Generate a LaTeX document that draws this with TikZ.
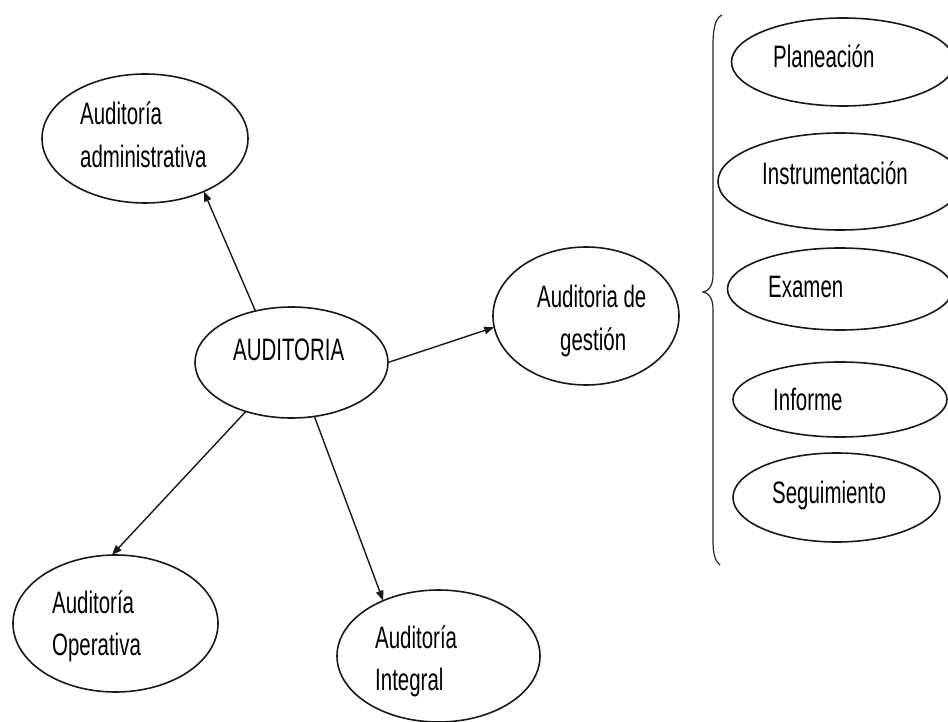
\documentclass[tikz,border=0pt]{standalone}
\usepackage{fontspec}
\setmainfont{Liberation Sans}[FakeStretch=0.66]
\usetikzlibrary{shapes.geometric,arrows.meta}

\tikzset{
  oval/.style={ellipse, draw=black!90, line width=1.6pt, inner sep=0pt, outer sep=0pt},
  txt/.style={anchor=base west, inner sep=0pt, font=\fontsize{31}{37}\selectfont},
  link/.style={draw=black!90, line width=1.4pt, -{Triangle[length=10pt,width=7.5pt]}},
  bracket/.style={draw=black!85, line width=1.2pt}
}

\begin{document}
\begin{tikzpicture}[x=1pt, y=-1pt]
  \clip (0,0) rectangle (948,722);
  \fill[white] (0,0) rectangle (948,722);

  % central concept and its branches
  \node[oval, minimum width=193pt, minimum height=111pt] (aud) at (291.5,362.5) {};
  \node[oval, minimum width=206pt, minimum height=129pt] (adm) at (145,138.5) {};
  \node[oval, minimum width=186pt, minimum height=138pt] (ges) at (586,316) {};
  \node[oval, minimum width=205pt, minimum height=137pt] (ope) at (115.5,623.5) {};
  \node[oval, minimum width=203pt, minimum height=132pt] (int) at (438.5,656) {};

  \node[txt] (audT) at (233,360) {AUDITORIA};
  \node[txt] (admT1) at (80,125) {Auditoría};
  \node[txt] (admT2) at (80,168) {administrativa};
  \node[txt] (gesT1) at (537,307) {Auditoria de};
  \node[txt] (gesT2) at (560,350) {gestión};
  \node[txt] (opeT1) at (52,613) {Auditoría};
  \node[txt] (opeT2) at (52,655) {Operativa};
  \node[txt] (intT1) at (375,648) {Auditoría};
  \node[txt] (intT2) at (375,690) {Integral};

  % stages of the management audit
  \node[oval, minimum width=223pt, minimum height=88pt] (pla) at (843,62) {};
  \node[oval, minimum width=244pt, minimum height=97pt] (ins) at (840,181.5) {};
  \node[oval, minimum width=225pt, minimum height=82pt] (exa) at (840,289) {};
  \node[oval, minimum width=214pt, minimum height=75pt] (inf) at (840,399.5) {};
  \node[oval, minimum width=207pt, minimum height=89pt] (seg) at (836.5,497.5) {};

  \node[txt] (plaT) at (773,68) {Planeación};
  \node[txt] (insT) at (762,185) {Instrumentación};
  \node[txt] (exaT) at (768,297) {Examen};
  \node[txt] (infT) at (773,410) {Informe};
  \node[txt] (segT) at (772,503) {Seguimiento};

  % connectors
  \draw[link] (aud.125) -- (adm.-42);
  \draw[link] (aud.0) -- (ges.187);
  \draw[link] (aud.227) -- (ope.93);
  \draw[link] (aud.-67) -- (int.135);

  % curly brace grouping the stages
  \coordinate (brTop) at (722,15);
  \coordinate (brTip) at (703,292);
  \coordinate (brBot) at (720,565);
  \draw[bracket] (brTop) .. controls (715,18) and (713,30) .. (713,45)
    -- (713,274) .. controls (713,286) and (709,291) .. (brTip)
    .. controls (709,293) and (713,298) .. (713,310)
    -- (713,540) .. controls (713,554) and (715,561) .. (brBot);
\end{tikzpicture}
\end{document}
